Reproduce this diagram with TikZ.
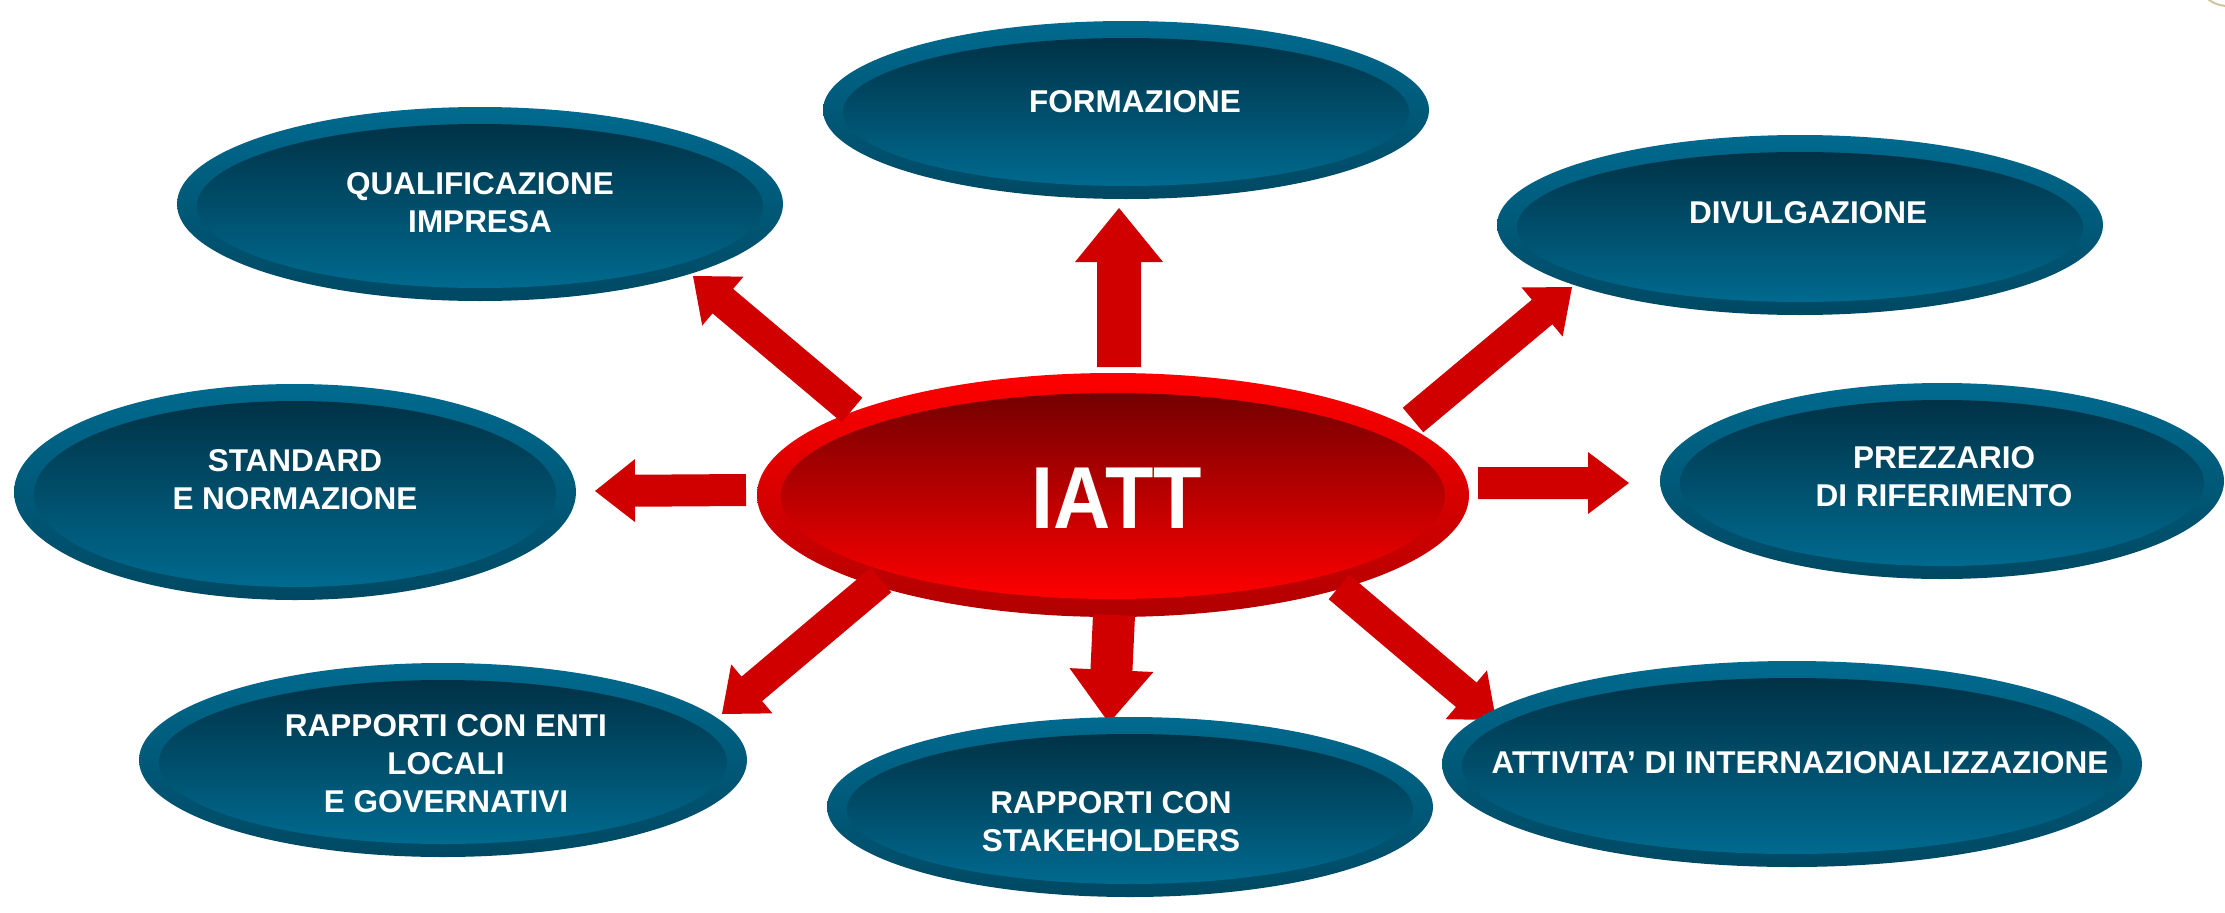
\documentclass[tikz,border=0pt]{standalone}
\usepackage{fontspec}
\setmainfont{Liberation Sans}
\usetikzlibrary{calc}
\definecolor{ringtop}{HTML}{006A8F}
\definecolor{ringbot}{HTML}{004862}
\definecolor{coretop}{HTML}{003246}
\definecolor{corebot}{HTML}{006A8F}
\definecolor{redringtop}{HTML}{FF0000}
\definecolor{redringbot}{HTML}{B00000}
\definecolor{redcoretop}{HTML}{740000}
\definecolor{redcorebot}{HTML}{FF0000}
\definecolor{arrowred}{HTML}{D00000}
\definecolor{beige}{HTML}{CFC49A}
\tikzset{
  bluering/.style={top color=ringtop, bottom color=ringbot},
  bluecore/.style={top color=coretop, bottom color=corebot},
  redring/.style={top color=redringtop, bottom color=redringbot},
  redcore/.style={top color=redcoretop, bottom color=redcorebot},
  arrowfill/.style={fill=arrowred},
  lbl/.style={text=white, align=center, inner sep=0pt,
    font=\bfseries\fontsize{31.5}{38}\selectfont},
  bigl/.style={text=white, inner sep=0pt, font=\bfseries\fontsize{88}{100}\selectfont}
}
\newcommand\bubble[4]{%
  \coordinate (#1) at (#2);
  \path[bluering] (#1) ellipse [x radius=#3pt, y radius=#4pt];
  \path[bluecore] ($(#1)+(0,2)$) ellipse [x radius=#3pt-20pt, y radius=#4pt-15pt];
}
\newcommand\blockarrow[5]{% tail, tip, half shaft, half head, head length
  \coordinate (#1h) at ($(#2)!#5pt!(#1)$);
  \fill[arrowfill] ($(#1)!#3pt!90:(#2)$) -- ($(#1h)!#3pt!90:(#2)$) -- ($(#1h)!#4pt!90:(#2)$)
    -- (#2) -- ($(#1h)!#4pt!-90:(#2)$) -- ($(#1h)!#3pt!-90:(#2)$) -- ($(#1)!#3pt!-90:(#2)$) -- cycle;
}
\begin{document}
\begin{tikzpicture}[x=1pt,y=-1pt]
\useasboundingbox (0,0) rectangle (2225,913);
\draw[beige, line width=2pt] (2228,-27) circle [radius=33pt];
% central ellipse
\coordinate (iatt) at (1113,495);
\path[redring] (iatt) ellipse [x radius=356pt, y radius=122pt];
\path[redcore] ($(iatt)+(0,1)$) ellipse [x radius=332pt, y radius=103pt];
\node[bigl] (iattt) at (1117,498) {\scalebox{0.9}[1]{IATT}};
% arrows
\coordinate (upT) at (1119,367);   \coordinate (upH) at (1119,208);
\coordinate (ulT) at (852,410);    \coordinate (ulH) at (693,276);
\coordinate (urT) at (1413,420);   \coordinate (urH) at (1572,287);
\coordinate (lfT) at (746,490);    \coordinate (lfH) at (595,491);
\coordinate (rtT) at (1478,483);   \coordinate (rtH) at (1629,483);
\coordinate (llT) at (881,580);    \coordinate (llH) at (722,714);
\coordinate (dnT) at (1114,615);   \coordinate (dnH) at (1109,723);
\coordinate (lrT) at (1339,587);   \coordinate (lrH) at (1496,720);
\blockarrow{upT}{upH}{22}{44}{54}
\blockarrow{ulT}{ulH}{16}{32}{39}
\blockarrow{urT}{urH}{16}{32}{39}
\blockarrow{lfT}{lfH}{16}{31.5}{40}
\blockarrow{rtT}{rtH}{16}{31}{41}
\blockarrow{llT}{llH}{16}{32}{39}
\blockarrow{dnT}{dnH}{21}{42}{53}
\blockarrow{lrT}{lrH}{16}{32}{39}
% outer ellipses
\bubble{form}{1126,110}{303}{89}
\bubble{qual}{480,204}{303}{97}
\bubble{div}{1800,225}{303}{90}
\bubble{std}{295,492}{281}{108}
\bubble{prez}{1942,481}{282}{98}
\bubble{enti}{443,760}{304}{97}
\bubble{stake}{1130,807}{303}{90}
\bubble{att}{1792,764}{350}{103}
% labels
\node[lbl] (formt) at (1135,102) {FORMAZIONE};
\node[lbl] (qualt) at (480,203) {QUALIFICAZIONE\\IMPRESA};
\node[lbl] (divt) at (1808,213) {DIVULGAZIONE};
\node[lbl] (stdt) at (295,480) {STANDARD\\E NORMAZIONE};
\node[lbl] (prezt) at (1944,477) {PREZZARIO\\DI RIFERIMENTO};
\node[lbl] (entit) at (446,764) {RAPPORTI CON ENTI\\LOCALI\\E GOVERNATIVI};
\node[lbl] (staket) at (1111,822) {RAPPORTI CON\\STAKEHOLDERS};
\node[lbl] (attt) at (1800,763) {ATTIVITA’ DI INTERNAZIONALIZZAZIONE};
\end{tikzpicture}
\end{document}
